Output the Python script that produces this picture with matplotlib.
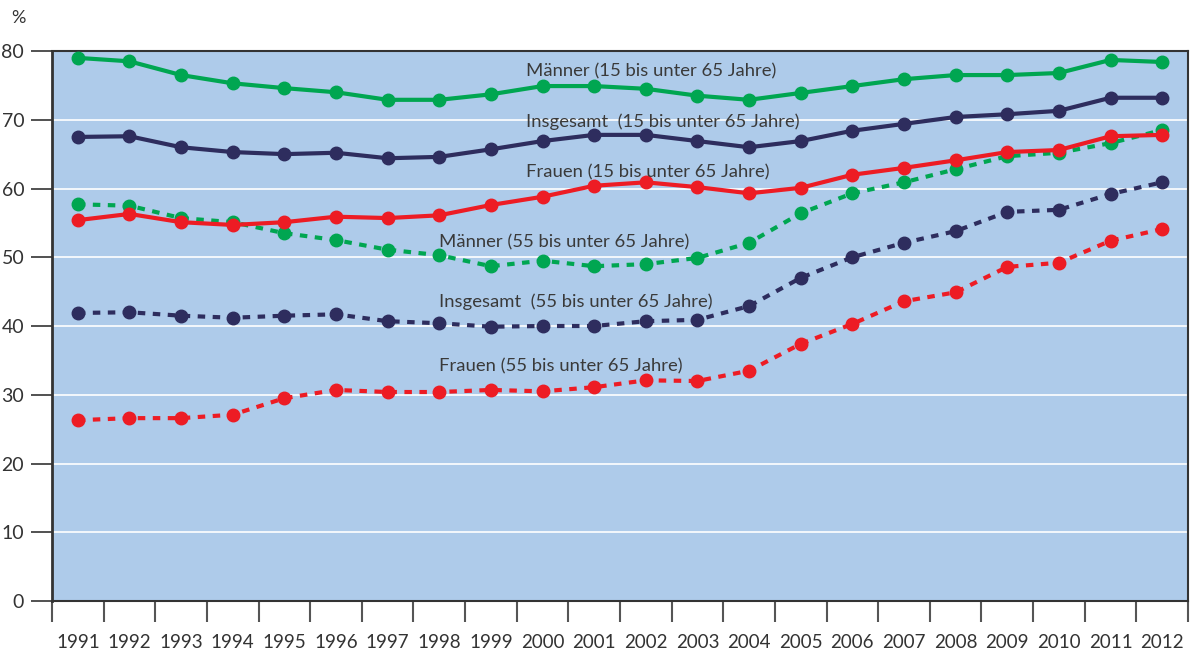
import matplotlib.pyplot as plt
import numpy as np

plt.rcParams['font.family'] = ['Lato', 'DejaVu Sans']

jahre = list(range(1991, 2013))

maenner_15_65 = [79.0, 78.5, 76.5, 75.3, 74.6, 74.0, 72.9, 72.9, 73.7, 74.9, 74.9,
                 74.5, 73.5, 72.9, 73.9, 74.9, 75.9, 76.5, 76.5, 76.8, 78.7, 78.4]
insgesamt_15_65 = [67.5, 67.6, 66.0, 65.3, 65.0, 65.2, 64.4, 64.6, 65.7, 66.9, 67.8,
                   67.8, 66.9, 66.0, 66.9, 68.4, 69.4, 70.4, 70.8, 71.3, 73.2, 73.2]
frauen_15_65 = [55.4, 56.3, 55.1, 54.7, 55.1, 55.9, 55.7, 56.1, 57.6, 58.8, 60.4,
                60.9, 60.2, 59.3, 60.1, 62.0, 63.0, 64.1, 65.3, 65.6, 67.6, 67.8]
maenner_55_65 = [57.7, 57.5, 55.7, 55.1, 53.5, 52.5, 51.1, 50.3, 48.7, 49.5, 48.7,
                 49.0, 49.9, 52.1, 56.4, 59.3, 60.9, 62.8, 64.7, 65.2, 66.6, 68.5]
insgesamt_55_65 = [41.9, 42.0, 41.5, 41.2, 41.5, 41.7, 40.7, 40.4, 39.9, 40.0, 40.0,
                   40.7, 40.9, 42.9, 47.0, 50.0, 52.1, 53.8, 56.6, 56.9, 59.2, 60.9]
frauen_55_65 = [26.3, 26.6, 26.6, 27.1, 29.5, 30.7, 30.4, 30.4, 30.7, 30.5, 31.1,
                32.1, 32.0, 33.5, 37.4, 40.3, 43.6, 44.9, 48.6, 49.2, 52.4, 54.1]

gruen = '#00a651'
blau = '#2e2d5e'
rot = '#ed1c24'

fig = plt.figure(figsize=(11.9, 6.53), dpi=100)
ax = fig.add_axes([0.0437, 0.0796, 0.9546, 0.8423])
ax.set_facecolor('#aecbea')

for y in range(10, 80, 10):
    ax.axhline(y, color='white', lw=1.2, zorder=1)

# gestrichelt: 55 bis unter 65
for werte, farbe in [(maenner_55_65, gruen), (insgesamt_55_65, blau), (frauen_55_65, rot)]:
    ax.plot(jahre, werte, color=farbe, lw=3, ls=(0, (1.8, 1.8)), marker='o', ms=9, zorder=3)
for werte, farbe in [(maenner_15_65, gruen), (insgesamt_15_65, blau), (frauen_15_65, rot)]:
    ax.plot(jahre, werte, color=farbe, lw=3, marker='o', ms=9, zorder=4)

tf = dict(fontsize=13.3, color='#3a3a3a', va='center', ha='left', zorder=5)
ax.text(1999.68, 77.0, 'Männer (15 bis unter 65 Jahre)', **tf)
ax.text(1999.68, 69.7, 'Insgesamt  (15 bis unter 65 Jahre)', **tf)
ax.text(1999.68, 62.4, 'Frauen (15 bis unter 65 Jahre)', **tf)
ax.text(1997.99, 52.1, 'Männer (55 bis unter 65 Jahre)', **tf)
ax.text(1997.99, 43.5, 'Insgesamt  (55 bis unter 65 Jahre)', **tf)
ax.text(1997.99, 34.2, 'Frauen (55 bis unter 65 Jahre)', **tf)

ax.set_xlim(1990.5, 2012.5)
ax.set_ylim(0, 80)
ax.set_xticks(np.arange(1990.5, 2013, 1))
ax.set_xticklabels([])
ax.set_xticks(jahre, minor=True)
ax.set_xticklabels([str(j) for j in jahre], minor=True)
ax.tick_params(axis='x', which='major', length=15, width=1.5, color='#555555', direction='out')
ax.tick_params(axis='x', which='minor', length=0, pad=24, labelsize=13.5, labelcolor='#333333')
ax.set_yticks(range(0, 90, 10))
ax.tick_params(axis='y', length=15, width=1.2, color='#333333', labelsize=14,
               labelcolor='#333333', pad=5)

for s in ax.spines.values():
    s.set_color('#333333')
    s.set_linewidth(1.5)
ax.spines['left'].set_linewidth(2)

fig.text(18 / 1190, 1 - 18 / 653, '%', fontsize=13, color='#333333', ha='center', va='center')

fig.savefig('out.png', dpi=100)
